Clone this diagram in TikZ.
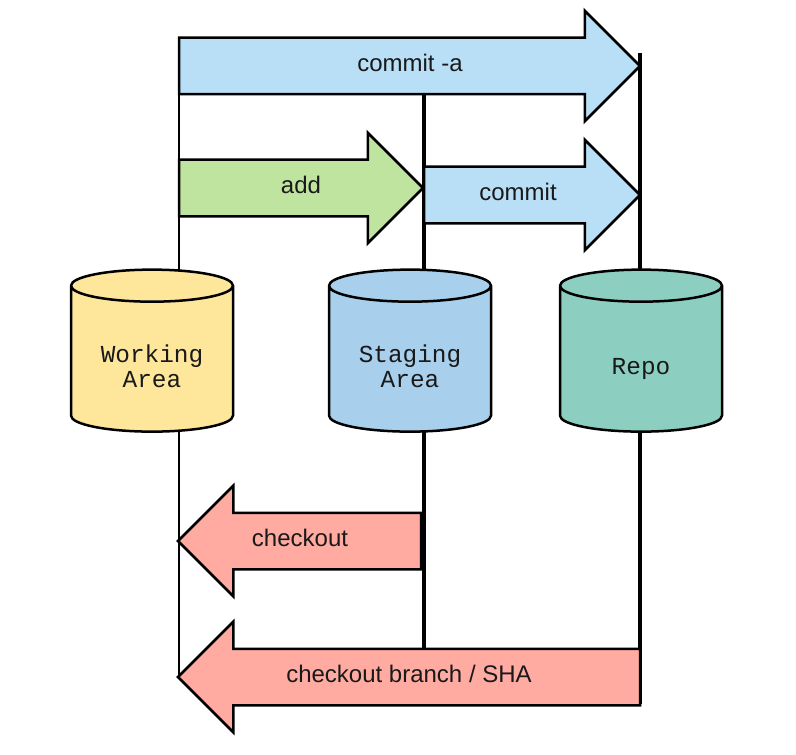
\documentclass[tikz,border=0pt]{standalone}
\usepackage{fontspec}
\setmainfont{Liberation Sans}
\setmonofont{Liberation Mono}
\usetikzlibrary{shapes.geometric,shapes.arrows,backgrounds}
\definecolor{bluefill}{HTML}{B9DFF7}
\definecolor{greenfill}{HTML}{BFE4A0}
\definecolor{pinkfill}{HTML}{FFABA1}
\definecolor{yellowfill}{HTML}{FEE69B}
\definecolor{stagefill}{HTML}{A8CFEC}
\definecolor{repofill}{HTML}{8CCFC1}
\tikzset{
  bigarrow/.style={draw, single arrow, single arrow head extend=13.5pt, single arrow tip angle=90,
    minimum width=54pt, inner xsep=0pt, inner ysep=13.5pt, outer sep=0pt, line width=1.25pt, miter limit=10, anchor=tip},
  label text/.style={font=\fontsize{12}{12.5}\selectfont, text=black!90, inner sep=0pt},
  store/.style={draw, shape=cylinder, shape border rotate=90, shape aspect=0.267, minimum width=81pt, minimum height=81pt,
    inner sep=30pt, outer sep=0pt, line width=1.25pt, cylinder uses custom fill,
    cylinder body fill=#1, cylinder end fill=#1},
  store text/.style={font=\ttfamily\fontsize{12.2}{12.5}\selectfont, align=center, text=black!90, inner sep=0pt}
}
\begin{document}
\begin{tikzpicture}[x=0.5pt,y=-0.5pt]
\useasboundingbox (0,0) rectangle (796,754);

\node[store=yellowfill] (working) at (152,367) {};
\node[store=stagefill] (staging) at (410,367) {};
\node[store=repofill] (repo) at (641,367) {};

\node[bigarrow, fill=bluefill, minimum height=230.5pt] (commita) at (640,66) {};
\node[bigarrow, fill=greenfill, minimum height=122pt] (add) at (423,188) {};
\node[bigarrow, fill=bluefill, minimum height=108pt] (commit) at (640,195) {};
\node[bigarrow, fill=pinkfill, minimum height=121.5pt, shape border rotate=180] (checkout) at (178,541) {};
\node[bigarrow, fill=pinkfill, minimum height=231pt, shape border rotate=180] (branch) at (178,677) {};

\node[label text] (commitatext) at (410,63) {commit -a};
\node[label text] (addtext) at (301,185) {add};
\node[label text] (committext) at (518,192) {commit};
\node[label text] (checkouttext) at (300,538) {checkout};
\node[label text] (branchtext) at (409,674) {checkout branch / SHA};

\node[store text] (workingtext) at (152,366) {Working\\Area};
\node[store text] (stagingtext) at (410,366) {Staging\\Area};
\node[store text] (repotext) at (641,369) {Repo};

\coordinate (worktop) at (179,39);
\coordinate (workbot) at (179,677);
\coordinate (stagetop) at (424,93);
\coordinate (stagebot) at (424,650);
\coordinate (repotop) at (640,53);
\coordinate (repobot) at (640,704);

\begin{pgfonlayer}{background}
\path[draw,line width=1.1pt] (worktop) -- (worktop |- working.center) -- (workbot);
\path[draw,line width=2.4pt] (stagetop) -- (stagetop |- staging.center) -- (stagebot);
\path[draw,line width=2pt] (repotop) -- (repotop |- repo.center) -- (repobot);
\end{pgfonlayer}
\end{tikzpicture}
\end{document}
